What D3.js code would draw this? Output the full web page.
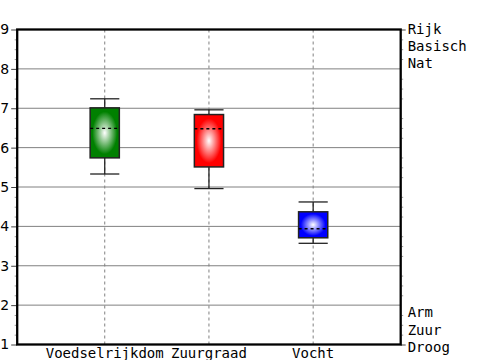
<!DOCTYPE html>
<html><head><meta charset="utf-8">
<script src="https://cdn.jsdelivr.net/npm/d3@7"></script>
<style>body{margin:0;background:#fff}</style>
</head><body>
<svg id="c" width="500" height="360"></svg>
<script>
const categories = ["Voedselrijkdom", "Zuurgraad", "Vocht"];
const colors = ["#008000", "#ff0000", "#0000ff"];
const whiskerLow = [5.33, 4.96, 3.57];
const boxLow = [5.74, 5.51, 3.71];
const meanVals = [6.49, 6.48, 3.94];
const boxHigh = [7.01, 6.84, 4.37];
const whiskerHigh = [7.24, 6.96, 4.62];
const yTicks = [1, 2, 3, 4, 5, 6, 7, 8, 9];
const rightTopLabels = ["Rijk", "Basisch", "Nat"];
const rightBottomLabels = ["Arm", "Zuur", "Droog"];

const L = 17.2, R = 400.7, T = 29.5, B = 344.5;
const svg = d3.select("#c");
const y = d3.scaleLinear().domain([1, 9]).range([B, T]);
const x = d3.scalePoint().domain(categories).range([L, R]).padding(0.84);
const bw = x.step() * 0.28;

// gradients
const defs = svg.append("defs");
categories.forEach((c, i) => {
  const g = defs.append("radialGradient").attr("id", "g" + i)
    .attr("cx", "50%").attr("cy", "50%").attr("r", "50%");
  g.append("stop").attr("offset", "0%").attr("stop-color", "#ffffff");
  g.append("stop").attr("offset", "85%").attr("stop-color", colors[i]);
});

// grid lines
svg.append("g").selectAll("line").data(yTicks.slice(1, -1)).join("line")
  .attr("x1", L).attr("x2", R).attr("y1", d => y(d)).attr("y2", d => y(d))
  .attr("stroke", "#808080").attr("stroke-width", 1);
svg.append("g").selectAll("line").data(categories).join("line")
  .attr("x1", d => x(d)).attr("x2", d => x(d)).attr("y1", T).attr("y2", B)
  .attr("stroke", "#808080").attr("stroke-width", 1).attr("stroke-dasharray", "3,3");

// minor ticks
const minor = d3.range(1, 9.001, 0.25).filter(v => Math.abs(v - Math.round(v)) > 1e-6);
const minL = svg.append("g").attr("transform", `translate(${L - 1},0)`)
  .call(d3.axisLeft(y).tickValues(minor).tickSize(1.5).tickFormat(""));
minL.select(".domain").remove();
minL.selectAll("line").attr("stroke", "#999");
const minR = svg.append("g").attr("transform", `translate(${R + 1},0)`)
  .call(d3.axisRight(y).tickValues(minor).tickSize(1.5).tickFormat(""));
minR.select(".domain").remove();
minR.selectAll("line").attr("stroke", "#999");

// left axis
const ax = svg.append("g").attr("transform", `translate(${L},0)`)
  .call(d3.axisLeft(y).tickValues(yTicks).tickSize(6).tickPadding(2).tickFormat(d3.format("d")));
ax.select(".domain").remove();
ax.selectAll("text").attr("font-family", "DejaVu Sans").attr("font-size", 14).attr("fill", "#000");
ax.selectAll("line").attr("stroke", "#444");

// right axis ticks
const axR = svg.append("g").attr("transform", `translate(${R},0)`)
  .call(d3.axisRight(y).tickValues([1, 9]).tickSize(5).tickFormat(""));
axR.select(".domain").remove();
axR.selectAll("line").attr("stroke", "#444");

// right labels
const rt = svg.append("text").attr("font-family", "DejaVu Sans Mono").attr("font-size", 14)
  .attr("x", R + 7).attr("y", y(9));
rt.selectAll("tspan").data(rightTopLabels).join("tspan")
  .attr("x", R + 7).attr("dy", (d, i) => i === 0 ? "0.32em" : 17).text(d => d);
const rb = svg.append("text").attr("font-family", "DejaVu Sans Mono").attr("font-size", 14)
  .attr("x", R + 7).attr("y", y(1) - 31.5);
rb.selectAll("tspan").data(rightBottomLabels).join("tspan")
  .attr("x", R + 7).attr("dy", (d, i) => i === 0 ? "0.32em" : 17.5).text(d => d);

// category labels
svg.append("g").selectAll("text").data(categories).join("text")
  .attr("x", d => x(d)).attr("y", 358).attr("text-anchor", "middle")
  .attr("font-family", "DejaVu Sans Mono").attr("font-size", 14).text(d => d);

// boxes
const gb = svg.append("g").selectAll("g").data(categories).join("g");
gb.append("line").attr("x1", d => x(d)).attr("x2", d => x(d))
  .attr("y1", (d, i) => y(whiskerHigh[i])).attr("y2", (d, i) => y(boxHigh[i]))
  .attr("stroke", "#222").attr("stroke-width", 1.3);
gb.append("line").attr("x1", d => x(d)).attr("x2", d => x(d))
  .attr("y1", (d, i) => y(boxLow[i])).attr("y2", (d, i) => y(whiskerLow[i]))
  .attr("stroke", "#222").attr("stroke-width", 1.3);
gb.append("line").attr("x1", d => x(d) - bw / 2).attr("x2", d => x(d) + bw / 2)
  .attr("y1", (d, i) => y(whiskerHigh[i])).attr("y2", (d, i) => y(whiskerHigh[i]))
  .attr("stroke", "#222").attr("stroke-width", 1.3);
gb.append("line").attr("x1", d => x(d) - bw / 2).attr("x2", d => x(d) + bw / 2)
  .attr("y1", (d, i) => y(whiskerLow[i])).attr("y2", (d, i) => y(whiskerLow[i]))
  .attr("stroke", "#222").attr("stroke-width", 1.3);
gb.append("rect").attr("x", d => x(d) - bw / 2).attr("width", bw)
  .attr("y", (d, i) => y(boxHigh[i])).attr("height", (d, i) => y(boxLow[i]) - y(boxHigh[i]))
  .attr("fill", (d, i) => `url(#g${i})`).attr("stroke", "#222").attr("stroke-width", 1.5);
gb.append("line").attr("x1", d => x(d) - bw / 2).attr("x2", d => x(d) + bw / 2)
  .attr("y1", (d, i) => y(meanVals[i])).attr("y2", (d, i) => y(meanVals[i]))
  .attr("stroke", "#000").attr("stroke-width", 1.3).attr("stroke-dasharray", "3,3");

// frame
svg.append("rect").attr("x", L).attr("y", T).attr("width", R - L).attr("height", B - T)
  .attr("fill", "none").attr("stroke", "#000").attr("stroke-width", 2.3);
</script>
</body></html>
